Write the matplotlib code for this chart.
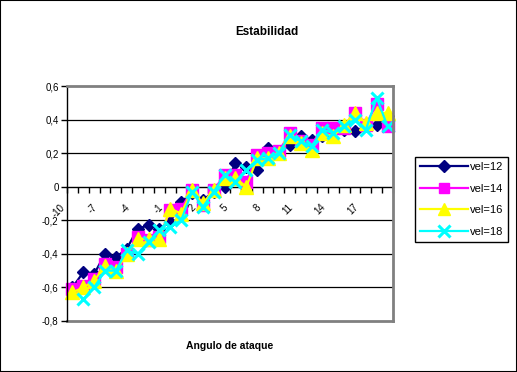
import matplotlib
matplotlib.use('Agg')
import matplotlib.pyplot as plt
import numpy as np
from matplotlib.transforms import ScaledTranslation
from matplotlib.patches import Rectangle

plt.rcParams['font.family'] = ['Liberation Sans', 'DejaVu Sans']

# Categories (angle of attack)
angles = list(range(-10, 20))

vel12 = [-0.60, -0.51, -0.52, -0.40, -0.42, -0.37, -0.25, -0.23, -0.25, -0.21,
         -0.09, -0.04, -0.08, -0.03, 0.00, 0.14, 0.12, 0.10, 0.23, 0.20,
         0.25, 0.30, 0.28, 0.30, 0.33, 0.34, 0.33, 0.36, 0.37, 0.42]
vel14 = [-0.61, -0.59, -0.55, -0.46, -0.48, -0.40, -0.30, -0.32, -0.30, -0.14,
         -0.13, -0.02, -0.11, -0.02, 0.07, 0.07, 0.03, 0.19, 0.20, 0.21,
         0.32, 0.27, 0.25, 0.35, 0.35, 0.35, 0.44, 0.37, 0.49, 0.36]
vel16 = [-0.63, -0.60, -0.56, -0.47, -0.50, -0.40, -0.31, -0.31, -0.31, -0.13,
         -0.16, -0.02, -0.10, -0.02, 0.05, 0.05, 0.00, 0.17, 0.17, 0.20,
         0.30, 0.26, 0.22, 0.32, 0.30, 0.37, 0.44, 0.38, 0.44, 0.44]
vel18 = [np.nan, -0.67, -0.60, -0.50, -0.50, -0.38, -0.40, -0.33, -0.26, -0.24,
         -0.20, -0.03, -0.12, -0.03, 0.07, 0.03, 0.10, 0.16, 0.17, 0.20,
         0.31, 0.27, 0.24, 0.34, 0.32, 0.36, 0.40, 0.34, 0.53, 0.36]

series = [vel12, vel14, vel16, vel18]
series_names = ['vel=12', 'vel=14', 'vel=16', 'vel=18']
colors = ['#000080', '#FF00FF', '#FFFF00', '#00FFFF']
markers = ['D', 's', '^', 'x']
msizes = [6.5, 8.5, 9.5, 9]

y_ticks = [-0.8, -0.6, -0.4, -0.2, 0.0, 0.2, 0.4, 0.6]
y_tick_labels = ['-0,8', '-0,6', '-0,4', '-0,2', '0', '0,2', '0,4', '0,6']

title = 'Estabilidad'
xlabel = 'Angulo de ataque'

W, H = 517, 372
fig = plt.figure(figsize=(W / 100, H / 100), dpi=100)
ax = fig.add_axes([67 / W, 1 - 321 / H, 326 / W, 235 / H])

x = np.arange(len(angles))
for vals, name, c, m, ms in zip(series, series_names, colors, markers, msizes):
    kw = dict(color=c, marker=m, markersize=ms, lw=1.6, label=name, clip_on=False)
    if m == 'x':
        kw['markeredgewidth'] = 2.2
    else:
        kw['markeredgecolor'] = c
    ax.plot(x, vals, **kw)

ax.set_xlim(-0.5, len(angles) - 0.5)
ax.set_ylim(-0.8, 0.6)

# gridlines
for yv in [-0.6, -0.4, -0.2, 0.2, 0.4]:
    ax.axhline(yv, color='black', lw=0.9, zorder=0.5)
ax.axhline(-0.8, color='#808080', lw=2, zorder=0.5, clip_on=False)

# spines
ax.spines['left'].set_color('black')
ax.spines['left'].set_linewidth(1)
ax.spines['bottom'].set_position(('data', 0))
ax.spines['bottom'].set_color('black')
ax.spines['bottom'].set_linewidth(1)
ax.spines['top'].set_color('#808080')
ax.spines['top'].set_linewidth(2)
ax.spines['right'].set_color('#808080')
ax.spines['right'].set_linewidth(2)
ax.spines['bottom'].set_zorder(0.6)

ax.set_yticks(y_ticks)
ax.set_yticklabels(y_tick_labels, fontsize=7)
ax.tick_params(axis='y', direction='out', length=4, width=1, pad=2)

ax.set_xticks(np.arange(-0.5, len(angles), 1))
ax.set_xticklabels([])
ax.tick_params(axis='x', direction='out', length=4, width=1)

off = ScaledTranslation(-9 / 100, -19 / 100, fig.dpi_scale_trans)
for i in range(0, len(angles), 3):
    ax.text(i, 0, str(angles[i]), rotation=45, rotation_mode='anchor',
            ha='right', va='center', fontsize=7,
            transform=ax.transData + off, clip_on=False)

fig.text(267 / W, 1 - 32 / H, title, ha='center', va='center',
         fontweight='bold', fontsize=8.5)
fig.text(230 / W, 1 - 346 / H, xlabel, ha='center', va='center',
         fontweight='bold', fontsize=7.5)

leg = fig.legend(loc='upper left', bbox_to_anchor=(415 / W, 1 - 157 / H),
                 fontsize=8, frameon=True, fancybox=False, edgecolor='black',
                 framealpha=1, handlelength=4.3, handletextpad=0.2,
                 borderpad=0.45, labelspacing=1.05, borderaxespad=0)
leg.get_frame().set_linewidth(1)
for h, ms in zip(leg.legend_handles, [6, 7.5, 8.5, 8]):
    h.set_markersize(ms)

fig.patches.append(Rectangle((0, 0), 1, 1, transform=fig.transFigure,
                             fill=False, edgecolor='black', lw=1.5))

fig.savefig('out.png', dpi=100)
